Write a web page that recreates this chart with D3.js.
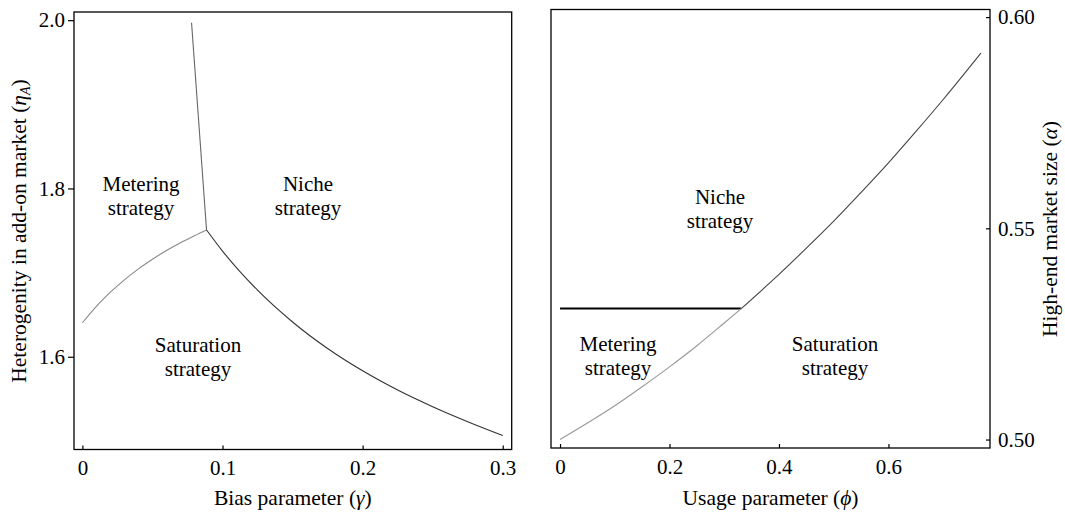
<!DOCTYPE html>
<html><head><meta charset="utf-8">
<script src="https://cdn.jsdelivr.net/npm/d3@7"></script>
<style>
html,body{margin:0;padding:0;background:#fff;}
svg{display:block;font-family:"Liberation Serif","Times New Roman",Times,serif;}
</style></head>
<body>
<svg id="chart" width="1065" height="512"></svg>
<script>
// ---------- data ----------
const leftXTicks = [0, 0.1, 0.2, 0.3];
const leftYTicks = [1.6, 1.8, 2.0];
const rightXTicks = [0, 0.2, 0.4, 0.6];
const rightYTicks = [0.50, 0.55, 0.60];

// Left panel: Metering / Niche boundary
const gammaMN = [0.0779, 0.0886];
const etaMN   = [1.9969, 1.7507];
// Left panel: Metering / Saturation boundary
const gammaMS = [0, 0.01, 0.02, 0.03, 0.04, 0.05, 0.06, 0.07, 0.08, 0.0886];
const etaMS   = [1.6404, 1.6599, 1.6767, 1.6914, 1.7044, 1.7159, 1.7262, 1.7355, 1.7439, 1.7507];
// Left panel: Niche / Saturation boundary
const gammaNS = [0.0886, 0.1, 0.125, 0.15, 0.175, 0.2, 0.225, 0.25, 0.275, 0.3];
const etaNS   = [1.7507, 1.7256, 1.6791, 1.6413, 1.6098, 1.5833, 1.5605, 1.5407, 1.5229, 1.5065];

// Right panel: Metering / Niche boundary
const phiMN   = [0, 0.331];
const alphaMN = [0.531, 0.531];
// Right panel: Metering / Saturation boundary
const phiMS   = [0, 0.05, 0.1, 0.15, 0.2, 0.25, 0.3, 0.331];
const alphaMS = [0.5000, 0.5039, 0.5080, 0.5125, 0.5172, 0.5222, 0.5276, 0.5310];
// Right panel: Niche / Saturation boundary
const phiNS   = [0.331, 0.4, 0.45, 0.5, 0.55, 0.6, 0.65, 0.7, 0.769];
const alphaNS = [0.5310, 0.5391, 0.5453, 0.5517, 0.5585, 0.5655, 0.5729, 0.5805, 0.5915];

// ---------- drawing ----------
const svg = d3.select("#chart");
const FONT = '"Liberation Serif","Times New Roman",Times,serif';
const FS = 21;
const FT = 21.5;

function zip(a, b){ return a.map((v,i)=>[v,b[i]]); }

// Left panel scales
const xL = d3.scaleLinear().domain([-0.006, 0.3064]).range([74, 511.7]);
const yL = d3.scaleLinear().domain([1.4898, 2.0097]).range([449.5, 12]);
// Right panel scales
const xR = d3.scaleLinear().domain([-0.0165, 0.7855]).range([551, 990]);
const yR = d3.scaleLinear().domain([0.498, 0.6018]).range([448, 9.5]);

function frame(x, y){
  svg.append("rect")
    .attr("x", x.range()[0]).attr("y", y.range()[1])
    .attr("width", x.range()[1]-x.range()[0])
    .attr("height", y.range()[0]-y.range()[1])
    .attr("fill","none").attr("stroke","#000").attr("stroke-width",1.3);
}

function styleAxis(g){
  g.select(".domain").remove();
  g.selectAll(".tick line").attr("stroke","#000").attr("stroke-width",1.2);
  g.selectAll(".tick text").attr("fill","#000")
    .attr("font-family", FONT).attr("font-size", FS);
  g.attr("font-family", FONT).attr("font-size", FS);
}

// ---- Left panel ----
frame(xL, yL);
svg.append("g").attr("transform",`translate(0,${yL.range()[0]})`)
  .call(d3.axisBottom(xL).tickValues(leftXTicks).tickSize(-4).tickPadding(11)
        .tickFormat(d=> d===0 ? "0" : d3.format(".1f")(d)))
  .call(styleAxis);
svg.append("g").attr("transform",`translate(${xL.range()[0]},0)`)
  .call(d3.axisLeft(yL).tickValues(leftYTicks).tickSize(6).tickPadding(3)
        .tickFormat(d3.format(".1f")))
  .call(styleAxis);

const lineL = d3.line().x(d=>xL(d[0])).y(d=>yL(d[1])).curve(d3.curveMonotoneX);
svg.append("path").datum(zip(gammaMN, etaMN)).attr("d", d3.line().x(d=>xL(d[0])).y(d=>yL(d[1])))
  .attr("fill","none").attr("stroke","#666").attr("stroke-width",1.1);
svg.append("path").datum(zip(gammaMS, etaMS)).attr("d", lineL)
  .attr("fill","none").attr("stroke","#8a8a8a").attr("stroke-width",1.1);
svg.append("path").datum(zip(gammaNS, etaNS)).attr("d", lineL)
  .attr("fill","none").attr("stroke","#333").attr("stroke-width",1.1);

// ---- Right panel ----
frame(xR, yR);
svg.append("g").attr("transform",`translate(0,${yR.range()[0]})`)
  .call(d3.axisBottom(xR).tickValues(rightXTicks).tickSize(-4).tickPadding(11)
        .tickFormat(d=> d===0 ? "0" : d3.format(".1f")(d)))
  .call(styleAxis);
svg.append("g").attr("transform",`translate(${xR.range()[1]},0)`)
  .call(d3.axisRight(yR).tickValues(rightYTicks).tickSize(-4).tickPadding(8)
        .tickFormat(d3.format(".2f")))
  .call(styleAxis);

const lineR = d3.line().x(d=>xR(d[0])).y(d=>yR(d[1])).curve(d3.curveMonotoneX);
svg.append("path").datum(zip(phiMN, alphaMN)).attr("d", lineR)
  .attr("fill","none").attr("stroke","#000").attr("stroke-width",2);
svg.append("path").datum(zip(phiMS, alphaMS)).attr("d", lineR)
  .attr("fill","none").attr("stroke","#999").attr("stroke-width",1.1);
svg.append("path").datum(zip(phiNS, alphaNS)).attr("d", lineR)
  .attr("fill","none").attr("stroke","#444").attr("stroke-width",1.1);

// ---- Region labels ----
const regionLabels = [
  {t1:"Metering", t2:"strategy", x:141, y:190.5},
  {t1:"Niche", t2:"strategy", x:308, y:190.5},
  {t1:"Saturation", t2:"strategy", x:198, y:352},
  {t1:"Niche", t2:"strategy", x:720, y:204},
  {t1:"Metering", t2:"strategy", x:618, y:350.5},
  {t1:"Saturation", t2:"strategy", x:835, y:350.5}
];
regionLabels.forEach(l=>{
  const t = svg.append("text").attr("text-anchor","middle")
    .attr("font-family", FONT).attr("font-size",FS).attr("fill","#000");
  t.append("tspan").attr("x",l.x).attr("y",l.y).text(l.t1);
  t.append("tspan").attr("x",l.x).attr("y",l.y+24).text(l.t2);
});

// ---- Axis titles ----
function title(x, y, rot, parts){
  const t = svg.append("text").attr("text-anchor","middle")
    .attr("font-family", FONT).attr("font-size",FT).attr("fill","#000")
    .attr("transform",`translate(${x},${y}) rotate(${rot})`);
  parts.forEach(p=>{
    const s = t.append("tspan").text(p.s);
    if(p.i) s.attr("font-style","italic");
    if(p.sub) s.attr("font-size",14).attr("baseline-shift","-25%");
  });
}
title((xL.range()[0]+xL.range()[1])/2, 505, 0, [{s:"Bias parameter ("},{s:"γ",i:true},{s:")"}]);
title((xR.range()[0]+xR.range()[1])/2, 505, 0, [{s:"Usage parameter ("},{s:"ϕ",i:true},{s:")"}]);
title(26, 231, -90, [{s:"Heterogenity in add-on market ("},{s:"η",i:true},{s:"A",i:true,sub:true},{s:")"}]);
title(1057, 229, -90, [{s:"High-end market size ("},{s:"α",i:true},{s:")"}]);
</script>
</body></html>
